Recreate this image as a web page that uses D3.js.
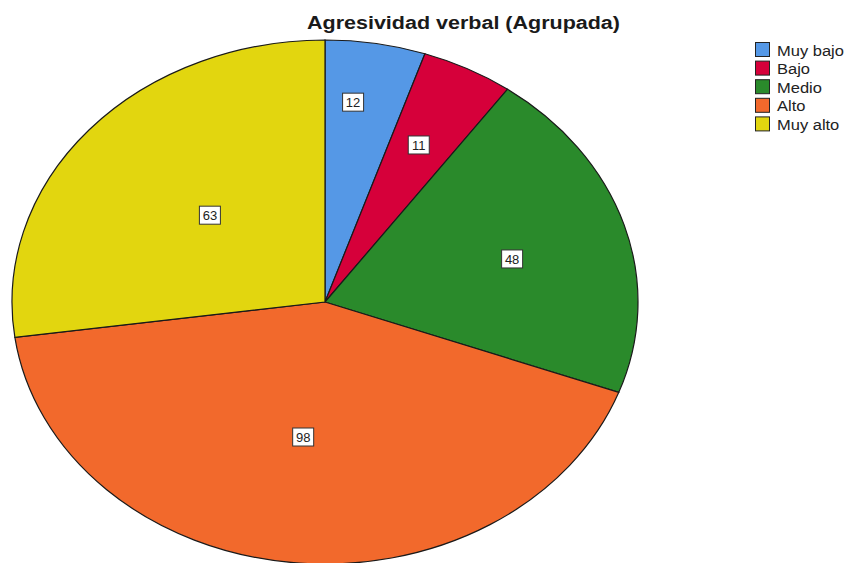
<!DOCTYPE html>
<html><head><meta charset="utf-8">
<script src="https://cdn.jsdelivr.net/npm/d3@7"></script>
<style>body{margin:0;background:#fff;overflow:hidden}svg{display:block}</style>
</head><body>
<svg id="chart" width="848" height="563"></svg>
<script>
const categories = ["Muy bajo", "Bajo", "Medio", "Alto", "Muy alto"];
const values = [12, 11, 48, 98, 63];
const colors = ["#5598e6", "#d6003a", "#2a8a2b", "#f2692c", "#e2d60f"];
const title = "Agresividad verbal (Agrupada)";

// layout
const cx = 325, cy = 302, rx = 313, ry = 262;
const labelFrac = [0.768, 0.67, 0.62, 0.52, 0.495];
const labelAngleShift = [-2.6, -0.6, 1.7, 1.5, 0.9]; // degrees

const svg = d3.select("#chart");
const font = "'Liberation Sans', Arial, sans-serif";

svg.append("text").attr("x", 307).attr("y", 29)
  .attr("font-family", font).attr("font-weight", "bold").attr("font-size", 18)
  .attr("textLength", 313).attr("lengthAdjust", "spacingAndGlyphs")
  .attr("fill", "#1a1a1a").text(title);

const pie = d3.pie().sort(null).value(d => d)(values);
const arc = d3.arc().innerRadius(0).outerRadius(rx);

const g = svg.append("g").attr("transform", `translate(${cx},${cy}) scale(1,${ry/rx})`);
g.selectAll("path").data(pie).join("path")
  .attr("d", arc).attr("fill", (d, i) => colors[i])
  .attr("stroke", "#1a1a1a").attr("stroke-width", 1.2)
  .attr("vector-effect", "non-scaling-stroke");

const lg = svg.append("g");
pie.forEach((d, i) => {
  const r = rx * labelFrac[i];
  const a = (d.startAngle + d.endAngle) / 2 + labelAngleShift[i] * Math.PI / 180;
  const x = cx + r * Math.sin(a), y = cy - r * Math.cos(a) * ry / rx;
  const t = lg.append("g").attr("transform", `translate(${x},${y})`);
  t.append("rect").attr("x", -10.5).attr("y", -9).attr("width", 21).attr("height", 18)
    .attr("fill", "#fff").attr("stroke", "#333").attr("stroke-width", 1);
  t.append("text").attr("text-anchor", "middle").attr("dy", "0.36em")
    .attr("font-family", font).attr("font-size", 13).attr("fill", "#222").text(values[i]);
});

const leg = svg.append("g").attr("transform", "translate(755,42)");
categories.forEach((c, i) => {
  const row = leg.append("g").attr("transform", `translate(0,${i * 18.6})`);
  row.append("rect").attr("x", 0.5).attr("y", 0.5).attr("width", 14).attr("height", 14)
    .attr("fill", colors[i]).attr("stroke", "#222").attr("stroke-width", 1);
  row.append("text").attr("transform", "translate(22,13.5) scale(1.1,1)").attr("font-family", font)
    .attr("font-size", 15).attr("fill", "#222").text(c);
});
</script>
</body></html>
